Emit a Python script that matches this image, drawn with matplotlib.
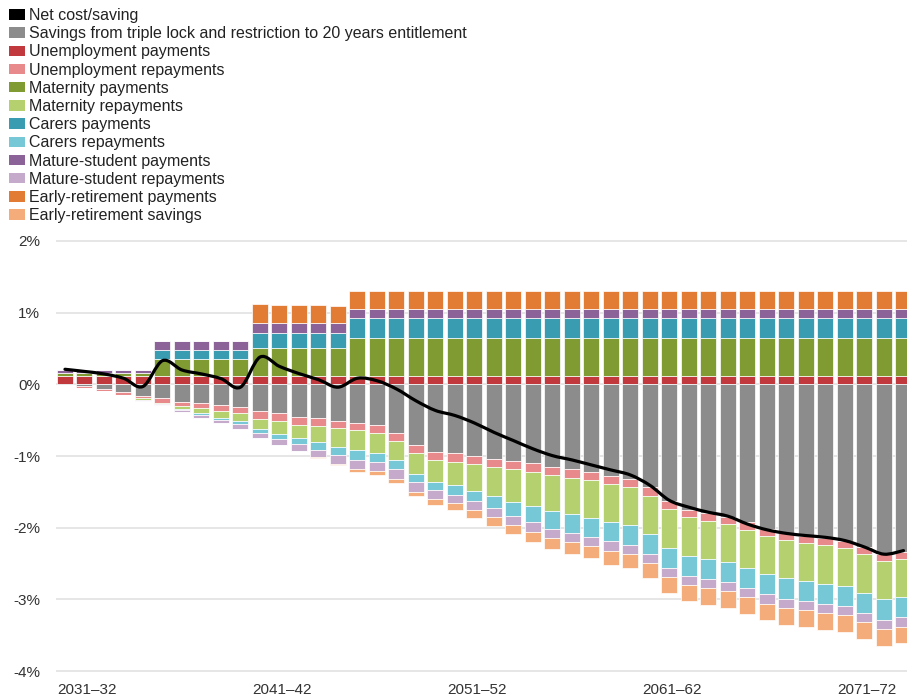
import matplotlib
matplotlib.use("Agg")
import matplotlib.pyplot as plt
from matplotlib.patches import Patch, PathPatch
from matplotlib.path import Path
import numpy as np

plt.rcParams['font.family'] = ['Liberation Sans', 'DejaVu Sans']

years = ["2031–32", "2032–33", "2033–34", "2034–35", "2035–36", "2036–37", "2037–38", "2038–39",
         "2039–40", "2040–41", "2041–42", "2042–43", "2043–44", "2044–45", "2045–46", "2046–47",
         "2047–48", "2048–49", "2049–50", "2050–51", "2051–52", "2052–53", "2053–54", "2054–55",
         "2055–56", "2056–57", "2057–58", "2058–59", "2059–60", "2060–61", "2061–62", "2062–63",
         "2063–64", "2064–65", "2065–66", "2066–67", "2067–68", "2068–69", "2069–70", "2070–71",
         "2071–72", "2072–73", "2073–74", "2074–75"]
tick_labels = ["2031–32", "2041–42", "2051–52", "2061–62", "2071–72"]
y_ticks = [-4, -3, -2, -1, 0, 1, 2]
y_tick_labels = ["-4%", "-3%", "-2%", "-1%", "0%", "1%", "2%"]

# positive components (% of GDP)
unemp_pay = [0.12, 0.12, 0.12, 0.12, 0.12, 0.12, 0.12, 0.12, 0.12, 0.12, 0.12, 0.12, 0.12, 0.12, 0.12,
             0.12, 0.12, 0.12, 0.12, 0.12, 0.12, 0.12, 0.12, 0.12, 0.12, 0.12, 0.12, 0.12, 0.12, 0.12,
             0.12, 0.12, 0.12, 0.12, 0.12, 0.12, 0.12, 0.12, 0.12, 0.12, 0.12, 0.12, 0.12, 0.12]
mat_pay = [0.035, 0.035, 0.035, 0.035, 0.035, 0.24, 0.24, 0.24, 0.24, 0.24, 0.38, 0.38, 0.38, 0.38, 0.38,
           0.52, 0.52, 0.52, 0.52, 0.52, 0.52, 0.52, 0.52, 0.52, 0.52, 0.52, 0.52, 0.52, 0.52, 0.52,
           0.52, 0.52, 0.52, 0.52, 0.52, 0.52, 0.52, 0.52, 0.52, 0.52, 0.52, 0.52, 0.52, 0.52]
carers_pay = [0, 0, 0, 0, 0, 0.12, 0.12, 0.12, 0.12, 0.12, 0.21, 0.21, 0.21, 0.21, 0.21,
              0.28, 0.28, 0.28, 0.28, 0.28, 0.28, 0.28, 0.28, 0.28, 0.28, 0.28, 0.28, 0.28, 0.28, 0.28,
              0.28, 0.28, 0.28, 0.28, 0.28, 0.28, 0.28, 0.28, 0.28, 0.28, 0.28, 0.28, 0.28, 0.28]
mature_pay = [0.05, 0.05, 0.05, 0.05, 0.05, 0.13, 0.13, 0.13, 0.13, 0.13, 0.14, 0.14, 0.14, 0.14, 0.14,
              0.13, 0.13, 0.13, 0.13, 0.13, 0.13, 0.13, 0.13, 0.13, 0.13, 0.13, 0.13, 0.13, 0.13, 0.13,
              0.13, 0.13, 0.13, 0.13, 0.13, 0.13, 0.13, 0.13, 0.13, 0.13, 0.13, 0.13, 0.13, 0.13]
early_pay = [0, 0, 0, 0, 0, 0, 0, 0, 0, 0, 0.27, 0.26, 0.255, 0.25, 0.245,
             0.25, 0.25, 0.25, 0.25, 0.25, 0.25, 0.25, 0.25, 0.25, 0.25, 0.25, 0.25, 0.25, 0.25, 0.25,
             0.25, 0.25, 0.25, 0.25, 0.25, 0.25, 0.25, 0.25, 0.25, 0.25, 0.25, 0.25, 0.25, 0.25]

# negative components
savings = [-0.005, -0.025, -0.07, -0.11, -0.16, -0.195, -0.24, -0.26, -0.29, -0.31, -0.37, -0.405,
           -0.45, -0.47, -0.505, -0.535, -0.57, -0.675, -0.847, -0.945, -0.965, -1.0, -1.035, -1.065,
           -1.1, -1.15, -1.185, -1.225, -1.28, -1.32, -1.437, -1.623, -1.749, -1.797, -1.845, -1.926,
           -2.015, -2.074, -2.11, -2.147, -2.18, -2.274, -2.367, -2.335]
unemp_repay = [-0.01, -0.02, -0.03, -0.035, -0.035, -0.065, -0.065, -0.074, -0.084, -0.093, -0.112,
               -0.112, -0.112, -0.107, -0.107, -0.107, -0.115, -0.116, -0.112, -0.112, -0.116, -0.116,
               -0.116, -0.116, -0.12, -0.116, -0.116, -0.116, -0.11, -0.112, -0.116, -0.12, -0.107,
               -0.105, -0.1, -0.1, -0.1, -0.1, -0.1, -0.1, -0.1, -0.1, -0.1, -0.1]
mat_repay = [0, 0, 0, -0.005, -0.02, -0.015, -0.037, -0.065, -0.093, -0.115, -0.14, -0.177, -0.19,
             -0.228, -0.26, -0.28, -0.27, -0.265, -0.293, -0.305, -0.326, -0.372, -0.405, -0.456,
             -0.484, -0.498, -0.512, -0.521, -0.535, -0.535, -0.535, -0.535, -0.535, -0.535, -0.535,
             -0.535, -0.535, -0.535, -0.535, -0.535, -0.535, -0.535, -0.535, -0.535]
carers_repay = [0, 0, 0, 0, -0.005, -0.005, -0.02, -0.028, -0.028, -0.035, -0.056, -0.07, -0.08,
                -0.105, -0.12, -0.135, -0.135, -0.13, -0.116, -0.112, -0.133, -0.14, -0.17, -0.195,
                -0.223, -0.256, -0.256, -0.265, -0.265, -0.27, -0.28, -0.28, -0.28, -0.28, -0.28,
                -0.28, -0.28, -0.28, -0.28, -0.28, -0.28, -0.28, -0.28, -0.28]
mature_repay = [0, 0, 0, 0, -0.01, -0.005, -0.02, -0.037, -0.046, -0.07, -0.074, -0.079, -0.093,
                -0.1, -0.116, -0.126, -0.12, -0.128, -0.13, -0.126, -0.12, -0.126, -0.13, -0.13,
                -0.13, -0.13, -0.13, -0.13, -0.13, -0.13, -0.13, -0.13, -0.13, -0.13, -0.13, -0.13,
                -0.13, -0.13, -0.13, -0.13, -0.13, -0.13, -0.13, -0.13]
early_save = [0, 0, 0, 0, 0, 0, 0, 0, 0, 0, 0, 0, 0, -0.014, -0.023, -0.037, -0.05, -0.058, -0.067,
              -0.09, -0.1, -0.115, -0.12, -0.126, -0.14, -0.149, -0.163, -0.165, -0.195, -0.2, -0.21,
              -0.22, -0.225, -0.233, -0.233, -0.233, -0.233, -0.233, -0.233, -0.233, -0.233, -0.233,
              -0.233, -0.233]

net = [0.21, 0.18, 0.145, 0.085, -0.03, 0.33, 0.2, 0.145, 0.08, -0.04, 0.38, 0.25, 0.15, 0.065,
       -0.04, 0.085, 0.05, -0.065, -0.23, -0.365, -0.435, -0.54, -0.67, -0.785, -0.9, -0.995, -1.055,
       -1.125, -1.195, -1.265, -1.41, -1.62, -1.715, -1.785, -1.84, -1.95, -2.03, -2.08, -2.11,
       -2.135, -2.18, -2.27, -2.37, -2.32]

C = {
    'net': '#000000', 'sav': '#8c8c8c',
    'up': '#c1393c', 'ur': '#e88a8b',
    'mp': '#7f9b31', 'mr': '#b5d06e',
    'cp': '#3a9cb1', 'cr': '#77c8d6',
    'sp': '#8b6398', 'sr': '#c5aacc',
    'ep': '#e27b34', 'er': '#f4ac7b',
}

fig = plt.figure(figsize=(9.07, 7.0), dpi=100)
L = 56 / 907
ax = fig.add_axes([L, 25.4 / 700, 1 - L, (700 - 237.4 - 25.4) / 700])

x = np.arange(len(years))
w = 0.82
ekw = dict(edgecolor='white', linewidth=0.5, width=w, zorder=2)

pos_series = [(unemp_pay, C['up']), (mat_pay, C['mp']), (carers_pay, C['cp']),
              (mature_pay, C['sp']), (early_pay, C['ep'])]
neg_series = [(savings, C['sav']), (unemp_repay, C['ur']), (mat_repay, C['mr']),
              (carers_repay, C['cr']), (mature_repay, C['sr']), (early_save, C['er'])]

base = np.zeros(len(x))
for vals, col in pos_series:
    v = np.array(vals, dtype=float)
    ax.bar(x, v, bottom=base, color=col, **ekw)
    base = base + v
base = np.zeros(len(x))
for vals, col in neg_series:
    v = np.array(vals, dtype=float)
    ax.bar(x, v, bottom=base, color=col, **ekw)
    base = base + v

# smooth net line (Catmull-Rom through the data points)
pts = np.column_stack([x, np.array(net, dtype=float)])
verts = [tuple(pts[0])]
codes = [Path.MOVETO]
n = len(pts)
for i in range(n - 1):
    p0 = pts[max(i - 1, 0)]
    p1 = pts[i]
    p2 = pts[i + 1]
    p3 = pts[min(i + 2, n - 1)]
    c1 = p1 + (p2 - p0) / 6.0
    c2 = p2 - (p3 - p1) / 6.0
    verts += [tuple(c1), tuple(c2), tuple(p2)]
    codes += [Path.CURVE4] * 3
ax.add_patch(PathPatch(Path(verts, codes), facecolor='none', edgecolor='black',
                       linewidth=2.3, zorder=4, capstyle='round', joinstyle='round'))

ax.set_xlim(-0.46, 43.18)
ax.set_ylim(-4.05, 2.05)
ax.set_yticks(y_ticks)
ax.set_yticklabels(y_tick_labels)
ax.set_xticks([years.index(t) - w / 2 for t in tick_labels])
ax.set_xticklabels(tick_labels, ha='left')
ax.grid(axis='y', color='#e6e6e6', linewidth=1.4, zorder=0)
ax.set_axisbelow(True)
for s in ax.spines.values():
    s.set_visible(False)
ax.tick_params(axis='both', length=0, labelsize=11, colors='#333333')
ax.tick_params(axis='y', pad=11.5)
ax.tick_params(axis='x', pad=6)

handles = [Patch(facecolor=C[k], edgecolor='none') for k in
           ['net', 'sav', 'up', 'ur', 'mp', 'mr', 'cp', 'cr', 'sp', 'sr', 'ep', 'er']]
labels = ["Net cost/saving", "Savings from triple lock and restriction to 20 years entitlement",
          "Unemployment payments", "Unemployment repayments", "Maternity payments",
          "Maternity repayments", "Carers payments", "Carers repayments",
          "Mature-student payments", "Mature-student repayments",
          "Early-retirement payments", "Early-retirement savings"]
fs = 11.5
fpx = fs * 100 / 72
fig.legend(handles, labels, loc='upper left', bbox_to_anchor=(9 / 907, 1 - 8 / 700),
           frameon=False, borderpad=0, borderaxespad=0, fontsize=fs,
           handlelength=16 / fpx, handleheight=10 / fpx, handletextpad=4 / fpx,
           labelspacing=0.2, labelcolor='#222222')

fig.savefig("out.png", dpi=100)
